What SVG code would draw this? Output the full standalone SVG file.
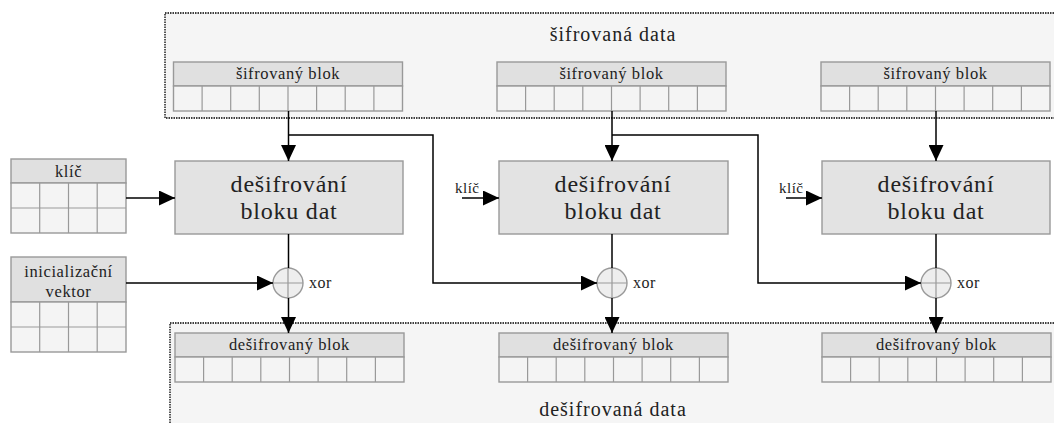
<svg xmlns="http://www.w3.org/2000/svg" width="1054" height="423" viewBox="0 0 1054 423" font-family="'Liberation Serif', 'DejaVu Serif', serif">
<defs>
<marker id="ah" markerUnits="userSpaceOnUse" markerWidth="16" markerHeight="15" refX="16" refY="7.5" orient="auto">
<path d="M0,0 L16,7.5 L0,15 z" fill="#000"/>
</marker>
</defs>
<style>
text{font-family:'Liberation Serif','DejaVu Serif',serif;fill:#222;text-anchor:middle}
.cont{fill:#f5f5f5;stroke:#000;stroke-width:1.3;stroke-dasharray:1.5,1}
.hd{fill:#e0e0e0;stroke:#999;stroke-width:1.4}
.cl{fill:#f4f4f4;stroke:#999;stroke-width:1.4}
.box{fill:#e3e3e3;stroke:#999;stroke-width:1.4}
.xc{fill:#eeeeee;stroke:#999;stroke-width:1.4}
.xl{stroke:#999;stroke-width:1.2}
.sm{font-size:16.5px;letter-spacing:0.6px}
.big{font-size:24px;letter-spacing:0.8px}
.ttl{font-size:20px;letter-spacing:1px}
.lbl{font-size:16px;letter-spacing:0.5px;text-anchor:start}
.ln{fill:none;stroke:#000;stroke-width:1.5}
</style>

<g id="sifrovana-data">
<rect class="cont" x="165" y="13" width="900" height="105"/>
<text class="ttl" x="613" y="41">šifrovaná data</text>
</g>
<g id="desifrovana-data">
<rect class="cont" x="170" y="323" width="900" height="120"/>
<text class="ttl" x="613" y="416">dešifrovaná data</text>
</g>

<g id="sb1">
<rect class="hd" x="173.5" y="62" width="229" height="24"/>
<text class="sm" x="288" y="79">šifrovaný blok</text>
<rect class="cl" x="173.5" y="86" width="229" height="25"/>
<path class="xl" d="M202.1,86v25M230.7,86v25M259.3,86v25M288,86v25M316.6,86v25M345.2,86v25M373.9,86v25"/>
</g>
<g id="sb2">
<rect class="hd" x="497" y="62" width="229" height="24"/>
<text class="sm" x="611.5" y="79">šifrovaný blok</text>
<rect class="cl" x="497" y="86" width="229" height="25"/>
<path class="xl" d="M525.6,86v25M554.2,86v25M582.8,86v25M611.5,86v25M640.1,86v25M668.7,86v25M697.4,86v25"/>
</g>
<g id="sb3">
<rect class="hd" x="821" y="62" width="229" height="24"/>
<text class="sm" x="935.5" y="79">šifrovaný blok</text>
<rect class="cl" x="821" y="86" width="229" height="25"/>
<path class="xl" d="M849.6,86v25M878.2,86v25M906.8,86v25M935.5,86v25M964.1,86v25M992.7,86v25M1021.4,86v25"/>
</g>

<g id="klic">
<rect class="hd" x="11" y="159" width="115" height="24"/>
<text class="sm" x="68.5" y="177">klíč</text>
<rect class="cl" x="11" y="183" width="115" height="50"/>
<path class="xl" d="M11,208h115M39.7,183v50M68.5,183v50M97.2,183v50"/>
</g>
<g id="iv">
<rect class="hd" x="11" y="257" width="115" height="45"/>
<text class="sm" x="68.5" y="277">inicializační</text>
<text class="sm" x="68.5" y="297">vektor</text>
<rect class="cl" x="11" y="302" width="115" height="50"/>
<path class="xl" d="M11,327h115M39.7,302v50M68.5,302v50M97.2,302v50"/>
</g>

<g id="dec1">
<rect class="box" x="175" y="161" width="228" height="73"/>
<text class="big" x="289" y="192">dešifrování</text>
<text class="big" x="289" y="219">bloku dat</text>
</g>
<g id="dec2">
<rect class="box" x="499" y="161" width="229" height="73"/>
<text class="big" x="613" y="192">dešifrování</text>
<text class="big" x="613" y="219">bloku dat</text>
</g>
<g id="dec3">
<rect class="box" x="822" y="161" width="228" height="73"/>
<text class="big" x="936" y="192">dešifrování</text>
<text class="big" x="936" y="219">bloku dat</text>
</g>

<g id="xor1">
<circle class="xc" cx="288" cy="283" r="15"/>
<path class="xl" d="M273,283h30M288,268v30"/>
<text class="lbl" x="309" y="288">xor</text>
</g>
<g id="xor2">
<circle class="xc" cx="612" cy="283" r="15"/>
<path class="xl" d="M597,283h30M612,268v30"/>
<text class="lbl" x="633" y="288">xor</text>
</g>
<g id="xor3">
<circle class="xc" cx="936" cy="283" r="15"/>
<path class="xl" d="M921,283h30M936,268v30"/>
<text class="lbl" x="957" y="288">xor</text>
</g>

<g id="db1">
<rect class="hd" x="175" y="333" width="229" height="24"/>
<text class="sm" x="289.5" y="350">dešifrovaný blok</text>
<rect class="cl" x="175" y="357" width="229" height="25"/>
<path class="xl" d="M203.6,357v25M232.2,357v25M260.8,357v25M289.5,357v25M318.1,357v25M346.7,357v25M375.4,357v25"/>
</g>
<g id="db2">
<rect class="hd" x="499" y="333" width="229" height="24"/>
<text class="sm" x="613.5" y="350">dešifrovaný blok</text>
<rect class="cl" x="499" y="357" width="229" height="25"/>
<path class="xl" d="M527.6,357v25M556.2,357v25M584.8,357v25M613.5,357v25M642.1,357v25M670.7,357v25M699.4,357v25"/>
</g>
<g id="db3">
<rect class="hd" x="822" y="333" width="229" height="24"/>
<text class="sm" x="936.5" y="350">dešifrovaný blok</text>
<rect class="cl" x="822" y="357" width="229" height="25"/>
<path class="xl" d="M850.6,357v25M879.2,357v25M907.8,357v25M936.5,357v25M965.1,357v25M993.7,357v25M1022.4,357v25"/>
</g>

<g id="klic-labels">
<text class="lbl" x="455" y="193" style="font-size:15px">klíč</text>
<text class="lbl" x="779" y="193" style="font-size:15px">klíč</text>
</g>

<g id="connectors">
<path class="ln" d="M288.5,111V161" marker-end="url(#ah)"/>
<path class="ln" d="M288.5,135H433V283H597" marker-end="url(#ah)"/>
<path class="ln" d="M612,111V161" marker-end="url(#ah)"/>
<path class="ln" d="M612,135H758V283H921" marker-end="url(#ah)"/>
<path class="ln" d="M936,111V161" marker-end="url(#ah)"/>
<path class="ln" d="M126,198H175" marker-end="url(#ah)"/>
<path class="ln" d="M126,283H273" marker-end="url(#ah)"/>
<path class="ln" d="M462,198H499" marker-end="url(#ah)"/>
<path class="ln" d="M786,198H822" marker-end="url(#ah)"/>
<path class="ln" d="M288.5,234V268"/>
<path class="ln" d="M612,234V268"/>
<path class="ln" d="M936,234V268"/>
<path class="ln" d="M288.5,298V333" marker-end="url(#ah)"/>
<path class="ln" d="M612,298V333" marker-end="url(#ah)"/>
<path class="ln" d="M936,298V333" marker-end="url(#ah)"/>
</g>
</svg>
